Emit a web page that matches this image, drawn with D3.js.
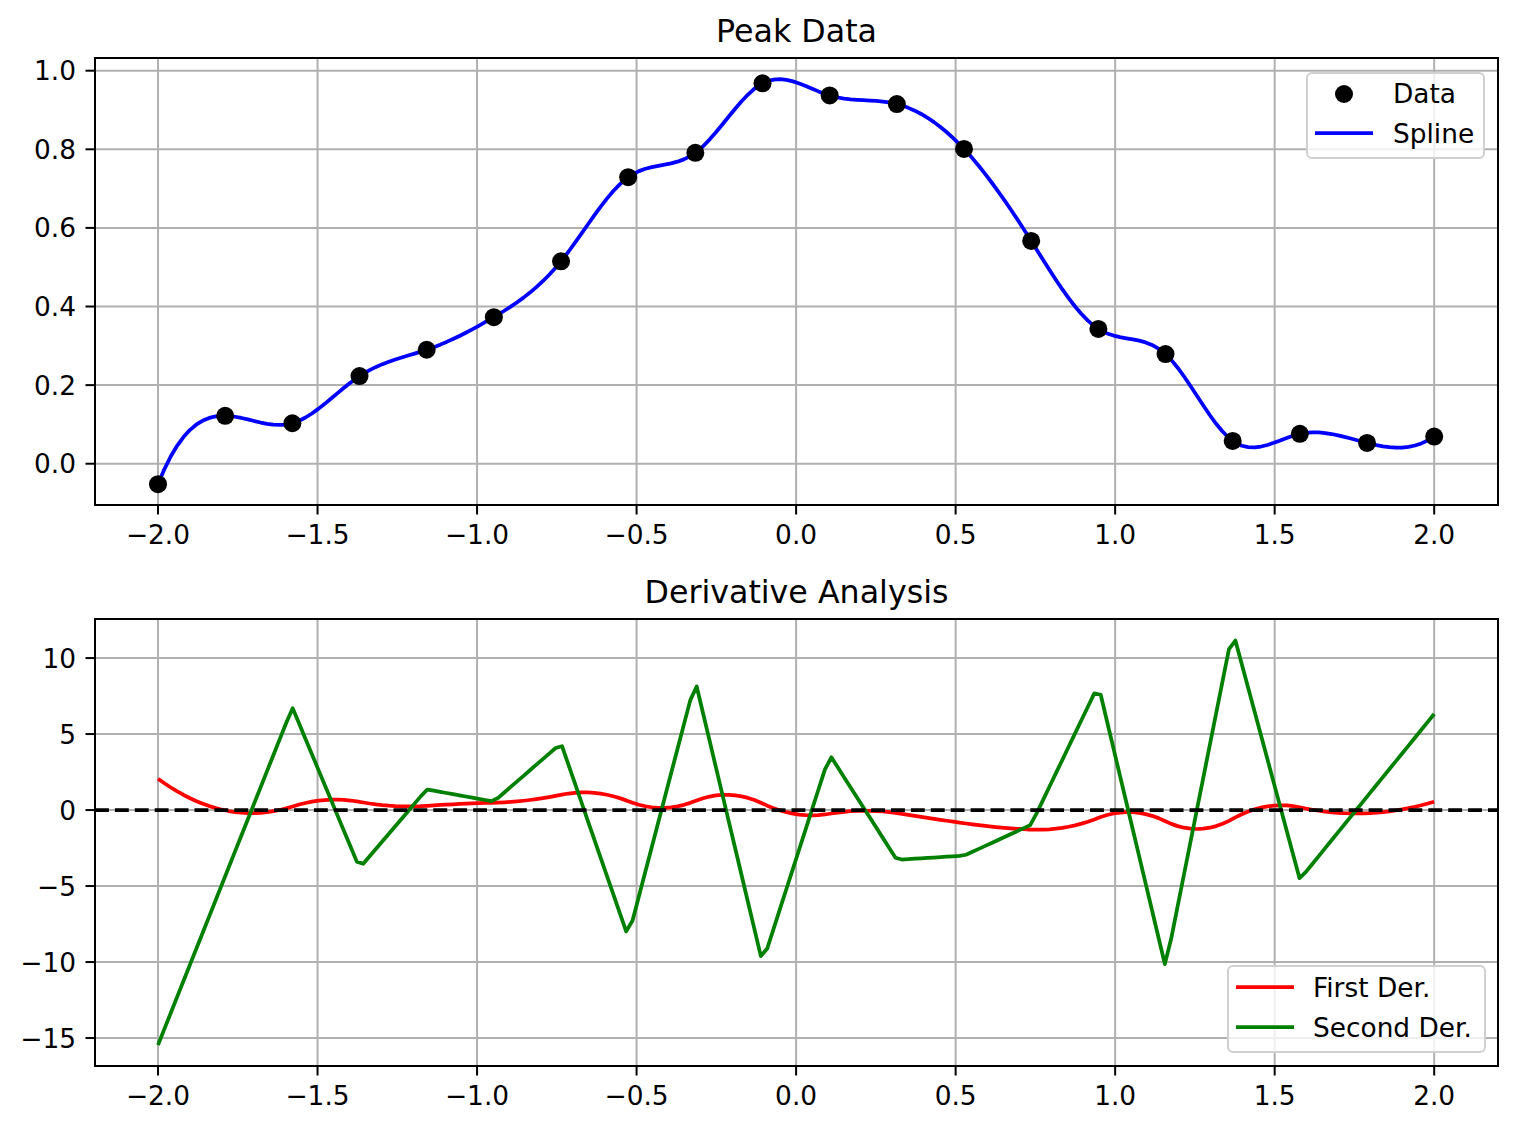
<!DOCTYPE html>
<html>
<head>
<meta charset="utf-8">
<script src="https://cdn.jsdelivr.net/npm/d3@7"></script>
<style>
  html, body { margin: 0; padding: 0; background: #fff; }
  svg { display: block; font-family: "DejaVu Sans", sans-serif; }
</style>
</head>
<body>
<svg id="chart" width="1516" height="1130"></svg>
<script>
// ---------------- data ----------------
const xData = [-2.0, -1.7895, -1.5789, -1.3684, -1.1579, -0.9474, -0.7368, -0.5263, -0.3158, -0.1053,
               0.1053, 0.3158, 0.5263, 0.7368, 0.9474, 1.1579, 1.3684, 1.5789, 1.7895, 2.0];
const yData = [-0.052, 0.122, 0.103, 0.223, 0.290, 0.373, 0.515, 0.729, 0.791, 0.968,
               0.937, 0.915, 0.801, 0.567, 0.343, 0.279, 0.058, 0.076, 0.053, 0.069];
const xTicks = [-2.0, -1.5, -1.0, -0.5, 0.0, 0.5, 1.0, 1.5, 2.0];
const yTicksTop = [0.0, 0.2, 0.4, 0.6, 0.8, 1.0];
const yTicksBottom = [-15, -10, -5, 0, 5, 10];
const titles = ["Peak Data", "Derivative Analysis"];
const legendTop = ["Data", "Spline"];
const legendBottom = ["First Der.", "Second Der."];
const nSamples = 200;

// ---------------- not-a-knot cubic spline ----------------
function cubicSplineNotAKnot(x, y) {
  const n = x.length;
  const h = [];
  for (let i = 0; i < n - 1; i++) h.push(x[i + 1] - x[i]);
  const A = Array.from({length: n}, () => new Array(n).fill(0));
  const b = new Array(n).fill(0);
  A[0][0] = h[1]; A[0][1] = -(h[0] + h[1]); A[0][2] = h[0];
  for (let i = 1; i < n - 1; i++) {
    A[i][i - 1] = h[i - 1];
    A[i][i] = 2 * (h[i - 1] + h[i]);
    A[i][i + 1] = h[i];
    b[i] = 6 * ((y[i + 1] - y[i]) / h[i] - (y[i] - y[i - 1]) / h[i - 1]);
  }
  A[n - 1][n - 3] = h[n - 2]; A[n - 1][n - 2] = -(h[n - 3] + h[n - 2]); A[n - 1][n - 1] = h[n - 3];
  for (let c = 0; c < n; c++) {
    let p = c;
    for (let r = c + 1; r < n; r++) if (Math.abs(A[r][c]) > Math.abs(A[p][c])) p = r;
    [A[c], A[p]] = [A[p], A[c]]; [b[c], b[p]] = [b[p], b[c]];
    for (let r = c + 1; r < n; r++) {
      const f = A[r][c] / A[c][c];
      if (f === 0) continue;
      for (let k = c; k < n; k++) A[r][k] -= f * A[c][k];
      b[r] -= f * b[c];
    }
  }
  const M = new Array(n).fill(0);
  for (let r = n - 1; r >= 0; r--) {
    let s = b[r];
    for (let k = r + 1; k < n; k++) s -= A[r][k] * M[k];
    M[r] = s / A[r][r];
  }
  function seg(t) {
    let i = 0;
    while (i < n - 2 && t > x[i + 1]) i++;
    return i;
  }
  return function (t) {
    const i = seg(t);
    const hi = h[i], d = t - x[i];
    const bb = (y[i + 1] - y[i]) / hi - hi * (2 * M[i] + M[i + 1]) / 6;
    const c3 = (M[i + 1] - M[i]) / (6 * hi);
    return {
      v: y[i] + bb * d + M[i] / 2 * d * d + c3 * d * d * d,
      d1: bb + M[i] * d + 3 * c3 * d * d,
      d2: M[i] + 6 * c3 * d
    };
  };
}

const spline = cubicSplineNotAKnot(xData, yData);
const xs = d3.range(nSamples).map(k => xData[0] + k * (xData[xData.length - 1] - xData[0]) / (nSamples - 1));
const samples = xs.map(x => Object.assign({x}, spline(x)));

// ---------------- layout ----------------
const svg = d3.select("#chart");
const L = 95, R = 1498;
const panels = [
  {top: 58, bottom: 505, domain: [-0.105, 1.0323], ticks: yTicksTop, fmt: d3.format(".1f")},
  {top: 619, bottom: 1066, domain: [-16.84, 12.57], ticks: yTicksBottom, fmt: d3.format("d")}
];
const x = d3.scaleLinear().domain([-2.1975, 2.2]).range([L, R]);
const FS = 26.4;
const TFS = 31.7;

panels.forEach((p, idx) => {
  const y = d3.scaleLinear().domain(p.domain).range([p.bottom, p.top]);
  p.y = y;
  const g = svg.append("g");
  svg.append("clipPath").attr("id", "clip" + idx)
    .append("rect").attr("x", L).attr("y", p.top).attr("width", R - L).attr("height", p.bottom - p.top);
  g.append("g").selectAll("line").data(xTicks).join("line")
    .attr("x1", d => x(d)).attr("x2", d => x(d)).attr("y1", p.top).attr("y2", p.bottom)
    .attr("stroke", "#b0b0b0").attr("stroke-width", 2);
  g.append("g").selectAll("line").data(p.ticks).join("line")
    .attr("x1", L).attr("x2", R).attr("y1", d => y(d)).attr("y2", d => y(d))
    .attr("stroke", "#b0b0b0").attr("stroke-width", 2);
  p.g = g;
});

// ---- top panel content
{
  const p = panels[0];
  const g = p.g.append("g").attr("clip-path", "url(#clip0)");
  g.append("path").datum(samples)
    .attr("d", d3.line().x(d => x(d.x)).y(d => p.y(d.v)))
    .attr("fill", "none").attr("stroke", "#0000ff").attr("stroke-width", 3.75)
    .attr("stroke-linejoin", "round").attr("stroke-linecap", "butt");
  g.selectAll("circle").data(d3.zip(xData, yData)).join("circle")
    .attr("cx", d => x(d[0])).attr("cy", d => p.y(d[1])).attr("r", 9).attr("fill", "#000");
}
// ---- bottom panel content
{
  const p = panels[1];
  const g = p.g.append("g").attr("clip-path", "url(#clip1)");
  g.append("path").datum(samples)
    .attr("d", d3.line().x(d => x(d.x)).y(d => p.y(d.d1)))
    .attr("fill", "none").attr("stroke", "#ff0000").attr("stroke-width", 3.75).attr("stroke-linejoin", "round");
  g.append("path").datum(samples)
    .attr("d", d3.line().x(d => x(d.x)).y(d => p.y(d.d2)))
    .attr("fill", "none").attr("stroke", "#008000").attr("stroke-width", 3.75).attr("stroke-linejoin", "round");
  g.append("line").attr("x1", L).attr("x2", R).attr("y1", p.y(0)).attr("y2", p.y(0))
    .attr("stroke", "#000").attr("stroke-width", 3.75).attr("stroke-dasharray", "13.9,6");
}

// ---- axes, ticks, titles
panels.forEach((p, idx) => {
  const g = svg.append("g");
  g.append("rect").attr("x", L).attr("y", p.top).attr("width", R - L).attr("height", p.bottom - p.top)
    .attr("fill", "none").attr("stroke", "#000").attr("stroke-width", 2);
  g.append("g").selectAll("line").data(xTicks).join("line")
    .attr("x1", d => x(d)).attr("x2", d => x(d)).attr("y1", p.bottom).attr("y2", p.bottom + 9.5)
    .attr("stroke", "#000").attr("stroke-width", 2);
  g.append("g").selectAll("text").data(xTicks).join("text")
    .attr("x", d => x(d)).attr("y", p.bottom + 38.5).attr("text-anchor", "middle")
    .attr("font-size", FS).attr("fill", "#000").text(d => d3.format(".1f")(d));
  g.append("g").selectAll("line").data(p.ticks).join("line")
    .attr("x1", L - 9.5).attr("x2", L).attr("y1", d => p.y(d)).attr("y2", d => p.y(d))
    .attr("stroke", "#000").attr("stroke-width", 2);
  g.append("g").selectAll("text").data(p.ticks).join("text")
    .attr("x", L - 19).attr("y", d => p.y(d) + 9.5).attr("text-anchor", "end")
    .attr("font-size", FS).attr("fill", "#000").text(d => p.fmt(d));
  g.append("text").attr("x", (L + R) / 2).attr("y", p.top - 16.5).attr("text-anchor", "middle")
    .attr("font-size", TFS).attr("fill", "#000").text(titles[idx]);
});

// ---- legends
function legendBox(x0, y0, w, h) {
  svg.append("rect").attr("x", x0).attr("y", y0).attr("width", w).attr("height", h)
    .attr("rx", 5).attr("ry", 5)
    .attr("fill", "rgba(255,255,255,0.8)").attr("stroke", "#d0d0d0").attr("stroke-width", 2);
}
{
  legendBox(1307, 73, 177, 85);
  svg.append("circle").attr("cx", 1344).attr("cy", 94).attr("r", 9).attr("fill", "#000");
  svg.append("line").attr("x1", 1315).attr("x2", 1373).attr("y1", 133).attr("y2", 133)
    .attr("stroke", "#0000ff").attr("stroke-width", 3.75);
  svg.append("text").attr("x", 1393).attr("y", 103).attr("font-size", FS).text(legendTop[0]);
  svg.append("text").attr("x", 1393).attr("y", 143).attr("font-size", FS).text(legendTop[1]);
}
{
  legendBox(1228, 966, 257, 86);
  svg.append("line").attr("x1", 1236).attr("x2", 1294).attr("y1", 987).attr("y2", 987)
    .attr("stroke", "#ff0000").attr("stroke-width", 3.75);
  svg.append("line").attr("x1", 1236).attr("x2", 1294).attr("y1", 1027).attr("y2", 1027)
    .attr("stroke", "#008000").attr("stroke-width", 3.75);
  svg.append("text").attr("x", 1313).attr("y", 997).attr("font-size", FS).text(legendBottom[0]);
  svg.append("text").attr("x", 1313).attr("y", 1037).attr("font-size", FS).text(legendBottom[1]);
}
</script>
</body>
</html>
